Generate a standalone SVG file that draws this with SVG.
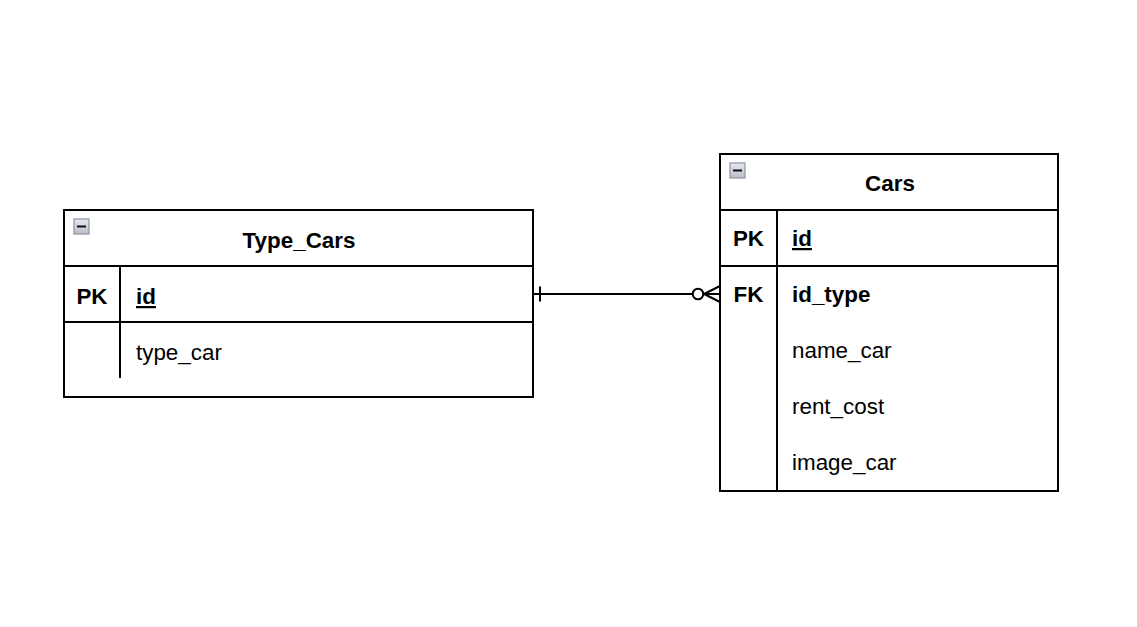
<svg xmlns="http://www.w3.org/2000/svg" width="1137" height="627" viewBox="0 0 1137 627">
<style>
.box{fill:#fff;stroke:#000;stroke-width:2}
.ln{stroke:#000;stroke-width:2;fill:none}
.t{font-family:"Liberation Sans",Arial,sans-serif;font-size:22.4px;fill:#000}
.b{font-weight:bold}
.u{text-decoration:underline}
.ico{fill:url(#g);stroke:#8a93a3;stroke-width:1.2}
</style>
<defs>
<linearGradient id="g" x1="0" y1="0" x2="0" y2="1">
<stop offset="0" stop-color="#e8eaee"/><stop offset="1" stop-color="#b8bcc6"/>
</linearGradient>
</defs>
<rect width="1137" height="627" fill="#fff"/>
<g id="type_cars">
<rect class="box" x="64" y="210" width="469" height="187"/>
<line class="ln" x1="64" y1="266" x2="533" y2="266"/>
<line class="ln" x1="64" y1="322" x2="533" y2="322"/>
<line class="ln" x1="120" y1="266" x2="120" y2="378"/>
<rect class="ico" x="74" y="219" width="15" height="15"/>
<line x1="77" y1="226.5" x2="86" y2="226.5" stroke="#111" stroke-width="2"/>
<text class="t b" x="299" y="248" text-anchor="middle">Type_Cars</text>
<text class="t b" x="92" y="304" text-anchor="middle">PK</text>
<text class="t b u" x="136" y="304">id</text>
<text class="t" x="136" y="360">type_car</text>
</g>
<g id="cars">
<rect class="box" x="720" y="154" width="338" height="337"/>
<line class="ln" x1="720" y1="210" x2="1058" y2="210"/>
<line class="ln" x1="720" y1="266" x2="1058" y2="266"/>
<line class="ln" x1="777" y1="210" x2="777" y2="491"/>
<rect class="ico" x="730" y="163" width="15" height="15"/>
<line x1="733" y1="170.5" x2="742" y2="170.5" stroke="#111" stroke-width="2"/>
<text class="t b" x="890" y="191" text-anchor="middle">Cars</text>
<text class="t b" x="748.5" y="246" text-anchor="middle">PK</text>
<text class="t b u" x="792" y="246">id</text>
<text class="t b" x="748.5" y="302" text-anchor="middle">FK</text>
<text class="t b" x="792" y="302">id_type</text>
<text class="t" x="792" y="358">name_car</text>
<text class="t" x="792" y="414">rent_cost</text>
<text class="t" x="792" y="470">image_car</text>
</g>
<g id="connectors">
<line class="ln" x1="533" y1="294" x2="693" y2="294"/>
<line class="ln" x1="540" y1="286.5" x2="540" y2="301.5"/>
<circle class="ln" cx="698" cy="294" r="5.3" fill="#fff"/>
<path class="ln" d="M720 286 L704 294 L720 302 M704 294 L720 294"/>
</g>
</svg>
